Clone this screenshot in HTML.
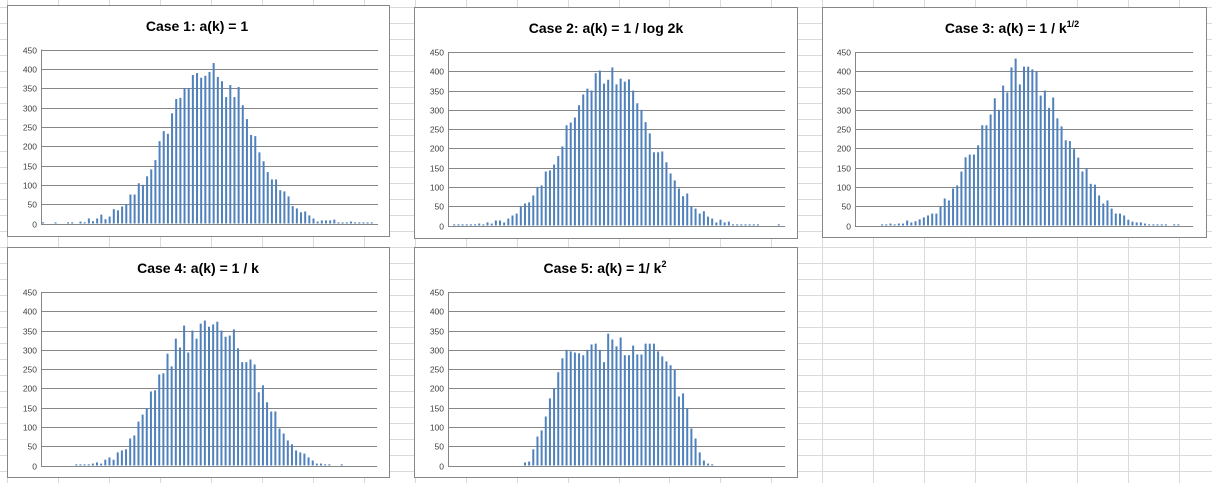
<!DOCTYPE html>
<html><head><meta charset="utf-8"><style>
html,body{margin:0;padding:0;background:#fff;}
svg{display:block;font-family:"Liberation Sans",sans-serif;}
</style></head><body>
<svg id="s" width="1212" height="483" viewBox="0 0 1212 483" xmlns="http://www.w3.org/2000/svg">
<g id="grid"></g>
<g id="charts"></g>
</svg>
<script>
const categories = Array.from({length:81},(_,i)=>i+1);
const yTicks = [0,50,100,150,200,250,300,350,400,450];
const case1 = [3,0,0,3,0,0,3,3,0,5,3,13,6,13,23,11,18,37,34,44,50,75,75,104,100,122,140,164,213,239,232,285,322,325,350,350,384,389,377,382,392,415,379,368,327,358,327,353,306,270,229,226,184,161,133,114,114,86,83,70,45,39,29,31,21,13,5,8,8,8,10,3,3,3,5,3,3,3,3,3,0];
const case2 = [0,3,3,3,3,3,3,5,3,8,5,13,13,8,18,26,31,49,57,60,78,100,104,140,143,158,180,205,260,267,280,312,340,355,350,395,402,368,378,410,366,381,373,379,350,317,300,268,239,190,190,192,164,135,117,96,76,83,50,44,31,37,23,18,8,15,8,10,3,3,3,3,3,3,3,0,0,0,0,3,0];
const case3 = [0,0,0,0,0,0,3,3,5,3,5,5,13,8,11,16,21,26,31,31,49,70,65,96,104,140,177,184,184,208,260,260,288,330,300,363,345,410,433,366,412,412,405,399,337,350,305,332,278,257,221,219,198,176,140,148,108,106,78,57,65,44,31,31,26,15,10,8,8,5,3,3,3,3,3,0,3,3,0,0,0];
const case4 = [0,0,0,0,0,0,0,0,3,3,3,3,5,8,5,15,21,15,34,39,42,70,78,114,132,148,192,195,236,239,290,257,329,306,363,293,350,329,368,376,360,366,373,350,334,337,353,304,268,268,275,262,190,208,164,140,140,96,83,65,55,39,34,31,21,13,5,5,3,3,0,0,3,0,0,0,0,0,0,0,0];
const case5 = [0,0,0,0,0,0,0,0,0,0,0,0,0,0,0,0,0,0,8,10,42,75,91,127,174,200,242,278,300,296,293,291,286,300,314,316,300,268,342,327,309,332,286,286,311,288,288,316,316,316,296,283,270,260,248,179,187,148,96,70,34,13,5,3,0,0,0,0,0,0,0,0,0,0,0,0,0,0,0,0,0];

const NS="http://www.w3.org/2000/svg";
function mk(tag,attrs,parent){const e=document.createElementNS(NS,tag);for(const k in attrs)e.setAttribute(k,attrs[k]);parent.appendChild(e);return e;}

// spreadsheet grid
const grid=document.getElementById('grid');
for(let n=0;n<25;n++){const x=Math.round(7+50.96*n)+0.5;
const l=mk('line',{x1:x,y1:0,x2:x,y2:483,stroke:'#dadada','stroke-width':1},grid);

}
for(let n=0;n<31;n++){const y=Math.round(7.3+16*n)+0.5;
const l=mk('line',{x1:0,y1:y,x2:1212,y2:y,stroke:'#dadada','stroke-width':1},grid);

}

const charts=document.getElementById('charts');
const specs=[
 {name:'case-1',data:case1,box:[7,5,389,236],plot:[41,378,49.5,223.5],title:'Case 1: a(k) = 1',sup:null,tx:197,ty:31},
 {name:'case-2',data:case2,box:[414,7,797,238],plot:[448,785,52,225.5],title:'Case 2: a(k) = 1 / log 2k',sup:null,tx:606,ty:33},
 {name:'case-3',data:case3,box:[822,7,1206,237],plot:[855,1193,52,225.5],title:'Case 3: a(k) = 1 / k',sup:'1/2',tx:1012,ty:33},
 {name:'case-4',data:case4,box:[7,247,389,477],plot:[41,377,292,465.5],title:'Case 4: a(k) = 1 / k',sup:null,tx:198,ty:273},
 {name:'case-5',data:case5,box:[414,247,797,477],plot:[448,785,292,465.5],title:'Case 5: a(k) = 1/ k',sup:'2',tx:605,ty:273}
];
specs.forEach(sp=>{
 const g=mk('g',{},charts);
 
 
 const [bx0,by0,bx1,by1]=sp.box;
 const r=mk('rect',{x:bx0+0.5,y:by0+0.5,width:bx1-bx0,height:by1-by0,fill:'#fff',stroke:'#868686','stroke-width':1},g);
 
 
 const t=mk('text',{x:sp.tx,y:sp.ty,'text-anchor':'middle','font-size':14,'font-weight':'bold',fill:'#000'},g);
 
 
 t.appendChild(document.createTextNode(sp.title));
 if(sp.sup){const ts=mk('tspan',{'font-size':9,dy:-6},t);ts.textContent=sp.sup;}
 const [px0,px1,pyTop,py0]=sp.plot;
 const yScale=v=>py0-v/450*(py0-pyTop);
 const n=categories.length, w=(px1-px0)/n;
 const xScale=i=>px0+(i+0.5)*w;
 yTicks.forEach(v=>{
  const y=Math.round(yScale(v))+0.5;
  const gl=mk('line',{x1:px0,y1:y,x2:px1,y2:y,stroke:'#868686','stroke-width':1},g);
  
  
  const tl=mk('text',{x:px0-4,y:y+3,'text-anchor':'end','font-size':8.5,fill:'#404040'},g);
  
  
  tl.textContent=v;
 });
 const ax=mk('line',{x1:px0+0.5,y1:yScale(450),x2:px0+0.5,y2:py0+0.5,stroke:'#868686','stroke-width':1},g);
 
 
 sp.data.forEach((v,i)=>{
  if(v<=0)return;
  const y=yScale(v);
  const b=mk('rect',{x:(xScale(i)-1).toFixed(2),y:y.toFixed(2),width:2,height:(py0-y).toFixed(2),fill:'#4f81bd'},g);
  
  
 });
});
</script>
</body></html>
